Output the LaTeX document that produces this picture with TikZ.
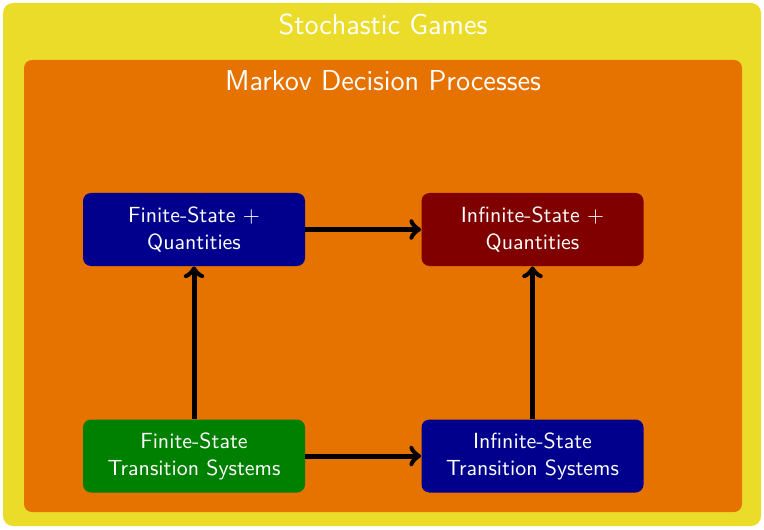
\documentclass[tikz,border=0pt]{standalone}
\usetikzlibrary{positioning}
\definecolor{gameyellow}{RGB}{236,220,42}
\definecolor{mdporange}{RGB}{230,114,0}
\definecolor{boxblue}{RGB}{0,0,140}
\definecolor{boxred}{RGB}{128,0,0}
\definecolor{boxgreen}{RGB}{0,128,0}
\tikzstyle{classbox}=[
    rounded corners=4pt,
    text=white,
    align=center,
    font=\sffamily\fontsize{10.95pt}{13.6pt}\selectfont,
    minimum width=111pt,
    minimum height=36.5pt,
]
\tikzstyle{areatitle}=[text=white, font=\sffamily\fontsize{14.4pt}{18pt}\selectfont]
\tikzstyle{reduction}=[->, >=to, line width=2.5pt]

\begin{document}
\begin{tikzpicture}[x=0.5pt, y=-0.5pt]
        \useasboundingbox (0,0) rectangle (764,529);
        \fill[gameyellow, rounded corners=5pt] (3,3) rectangle (761,526);
        \node[areatitle] (sg) at (383,25) {Stochastic Games};
        \fill[mdporange, rounded corners=4pt] (24,60) rectangle (742,512);
        \node[areatitle] (mdp) at (383,81) {Markov Decision Processes};
        \node[classbox, fill=boxblue] (fq) at (194,229.5) {Finite-State +\\Quantities};
        \node[classbox, fill=boxred] (iq) at (532.5,229.5) {Infinite-State +\\Quantities};
        \node[classbox, fill=boxgreen] (ft) at (194,456) {Finite-State\\Transition Systems};
        \node[classbox, fill=boxblue] (it) at (532.5,456) {Infinite-State\\Transition Systems};
        \draw[reduction] (fq) -- (iq);
        \draw[reduction] (ft) -- (it);
        \draw[reduction] (ft) -- (fq);
        \draw[reduction] (it) -- (iq);
    \end{tikzpicture}
\end{document}
